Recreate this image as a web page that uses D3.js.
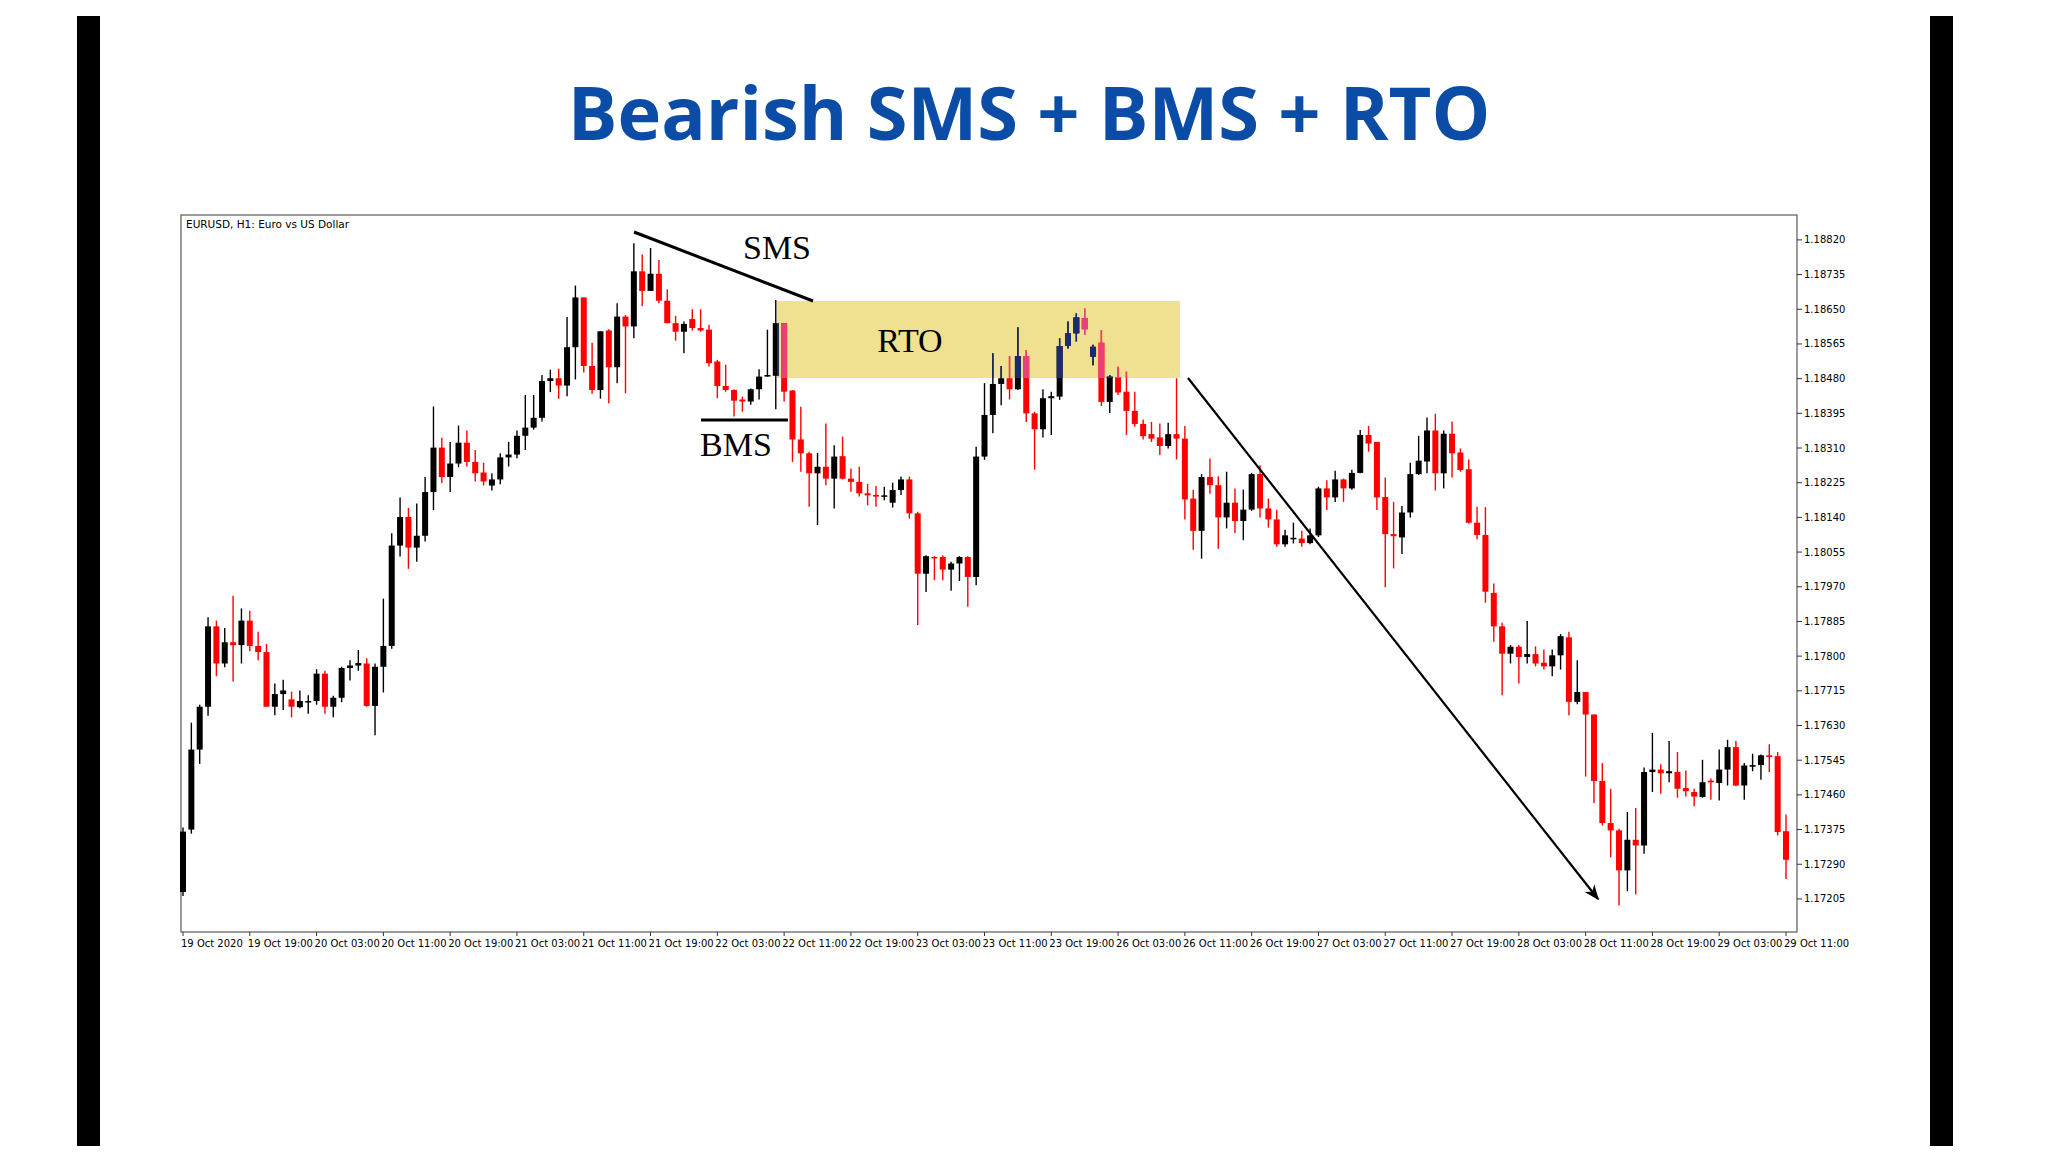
<!DOCTYPE html>
<html>
<head>
<meta charset="utf-8">
<script src="https://cdn.jsdelivr.net/npm/d3@7"></script>
<style>
  body { margin: 0; background: #fff; }
</style>
</head>
<body>
<svg id="chart" width="2048" height="1152"></svg>
<script>
const width = 2048;
const height = 1152;

// EURUSD H1 candles, prices
const open = [1.17222,1.17375,1.17571,1.17676,1.17873,1.17782,1.17834,1.17827,1.17887,1.17825,1.17810,1.17676,1.17707,1.17694,1.17675,1.17690,1.17690,1.17757,1.17676,1.17698,1.17771,1.17777,1.17782,1.17678,1.17774,1.17825,1.18071,1.18141,1.18066,1.18095,1.18202,1.18311,1.18239,1.18272,1.18323,1.18276,1.18250,1.18218,1.18233,1.18287,1.18294,1.18340,1.18360,1.18384,1.18474,1.18481,1.18463,1.18557,1.18679,1.18511,1.18452,1.18598,1.18508,1.18632,1.18608,1.18743,1.18695,1.18737,1.18671,1.18616,1.18595,1.18626,1.18604,1.18600,1.18522,1.18462,1.18452,1.18429,1.18424,1.18454,1.18485,1.18487,1.18616,1.18451,1.18331,1.18297,1.18248,1.18264,1.18235,1.18290,1.18235,1.18227,1.18199,1.18195,1.18191,1.18176,1.18207,1.18233,1.18150,1.18002,1.18043,1.18043,1.18012,1.18027,1.18043,1.17994,1.18289,1.18391,1.18467,1.18481,1.18454,1.18535,1.18395,1.18356,1.18432,1.18436,1.18560,1.18591,1.18628,1.18534,1.18568,1.18423,1.18483,1.18448,1.18401,1.18369,1.18344,1.18336,1.18315,1.18344,1.18333,1.18186,1.18107,1.18239,1.18219,1.18140,1.18176,1.18131,1.18159,1.18246,1.18162,1.18135,1.18074,1.18088,1.18088,1.18077,1.18096,1.18211,1.18189,1.18233,1.18211,1.18249,1.18342,1.18325,1.18190,1.18099,1.18091,1.18152,1.18246,1.18277,1.18353,1.18248,1.18345,1.18299,1.18258,1.18127,1.18097,1.17955,1.17873,1.17806,1.17823,1.17798,1.17805,1.17784,1.17775,1.17802,1.17846,1.17688,1.17712,1.17657,1.17494,1.17391,1.17373,1.17275,1.17350,1.17336,1.17516,1.17522,1.17513,1.17516,1.17477,1.17467,1.17455,1.17495,1.17489,1.17522,1.17577,1.17483,1.17529,1.17533,1.17557,1.17555,1.17371];
const high = [1.17380,1.17637,1.17681,1.17895,1.17887,1.17869,1.17948,1.17917,1.17911,1.17860,1.17830,1.17733,1.17742,1.17713,1.17716,1.17704,1.17768,1.17764,1.17703,1.17774,1.17790,1.17815,1.17795,1.17782,1.17941,1.18101,1.18189,1.18163,1.18174,1.18239,1.18412,1.18335,1.18325,1.18365,1.18353,1.18305,1.18274,1.18248,1.18297,1.18325,1.18353,1.18440,1.18440,1.18489,1.18502,1.18504,1.18631,1.18708,1.18679,1.18568,1.18596,1.18601,1.18665,1.18636,1.18812,1.18784,1.18800,1.18771,1.18699,1.18634,1.18620,1.18650,1.18650,1.18612,1.18526,1.18514,1.18454,1.18436,1.18456,1.18503,1.18600,1.18673,1.18616,1.18452,1.18411,1.18301,1.18298,1.18370,1.18317,1.18338,1.18260,1.18264,1.18222,1.18217,1.18215,1.18225,1.18240,1.18240,1.18154,1.18047,1.18045,1.18047,1.18031,1.18045,1.18045,1.18313,1.18469,1.18542,1.18511,1.18535,1.18606,1.18550,1.18399,1.18454,1.18448,1.18579,1.18620,1.18640,1.18652,1.18563,1.18599,1.18489,1.18509,1.18497,1.18448,1.18380,1.18374,1.18370,1.18372,1.18481,1.18364,1.18208,1.18246,1.18284,1.18241,1.18252,1.18211,1.18208,1.18249,1.18268,1.18186,1.18159,1.18110,1.18127,1.18107,1.18113,1.18215,1.18231,1.18254,1.18235,1.18257,1.18354,1.18364,1.18325,1.18238,1.18178,1.18168,1.18274,1.18340,1.18385,1.18394,1.18353,1.18375,1.18309,1.18282,1.18166,1.18165,1.17978,1.17882,1.17827,1.17827,1.17886,1.17824,1.17816,1.17816,1.17854,1.17860,1.17790,1.17712,1.17657,1.17538,1.17475,1.17377,1.17418,1.17428,1.17527,1.17612,1.17535,1.17592,1.17565,1.17520,1.17475,1.17546,1.17500,1.17571,1.17595,1.17592,1.17538,1.17561,1.17559,1.17584,1.17565,1.17412];
const low = [1.17212,1.17365,1.17536,1.17654,1.17751,1.17773,1.17738,1.17782,1.17812,1.17790,1.17676,1.17655,1.17668,1.17650,1.17672,1.17659,1.17681,1.17659,1.17650,1.17687,1.17740,1.17764,1.17676,1.17606,1.17711,1.17818,1.18044,1.18014,1.18031,1.18081,1.18158,1.18224,1.18202,1.18263,1.18265,1.18228,1.18218,1.18206,1.18221,1.18265,1.18285,1.18305,1.18355,1.18375,1.18447,1.18431,1.18437,1.18478,1.18495,1.18443,1.18431,1.18420,1.18469,1.18444,1.18579,1.18658,1.18695,1.18665,1.18616,1.18573,1.18542,1.18598,1.18595,1.18510,1.18432,1.18448,1.18387,1.18399,1.18416,1.18429,1.18485,1.18405,1.18424,1.18276,1.18252,1.18166,1.18121,1.18219,1.18162,1.18233,1.18203,1.18191,1.18170,1.18166,1.18182,1.18164,1.18195,1.18137,1.17876,1.17957,1.17986,1.17986,1.17960,1.17984,1.17921,1.17974,1.18281,1.18346,1.18415,1.18429,1.18452,1.18374,1.18257,1.18336,1.18342,1.18428,1.18554,1.18571,1.18587,1.18513,1.18413,1.18396,1.18440,1.18342,1.18362,1.18331,1.18325,1.18293,1.18309,1.18282,1.18135,1.18061,1.18039,1.18198,1.18063,1.18113,1.18102,1.18084,1.18156,1.18140,1.18115,1.18068,1.18068,1.18076,1.18068,1.18074,1.18092,1.18158,1.18178,1.18178,1.18208,1.18248,1.18301,1.18158,1.17969,1.18015,1.18050,1.18140,1.18244,1.18248,1.18206,1.18211,1.18238,1.18252,1.18125,1.18086,1.17931,1.17835,1.17704,1.17782,1.17733,1.17782,1.17775,1.17767,1.17751,1.17767,1.17655,1.17682,1.17505,1.17440,1.17385,1.17307,1.17189,1.17224,1.17216,1.17316,1.17467,1.17463,1.17491,1.17453,1.17456,1.17432,1.17453,1.17448,1.17446,1.17483,1.17481,1.17448,1.17518,1.17497,1.17516,1.17361,1.17254];
const close = [1.17370,1.17571,1.17676,1.17873,1.17782,1.17834,1.17827,1.17887,1.17825,1.17810,1.17676,1.17707,1.17716,1.17676,1.17690,1.17690,1.17757,1.17676,1.17698,1.17771,1.17777,1.17783,1.17678,1.17774,1.17825,1.18071,1.18141,1.18066,1.18095,1.18202,1.18311,1.18239,1.18272,1.18323,1.18276,1.18248,1.18228,1.18233,1.18287,1.18294,1.18340,1.18360,1.18384,1.18474,1.18481,1.18463,1.18557,1.18679,1.18511,1.18452,1.18596,1.18508,1.18632,1.18608,1.18743,1.18695,1.18737,1.18671,1.18616,1.18595,1.18614,1.18604,1.18598,1.18518,1.18462,1.18452,1.18426,1.18424,1.18454,1.18485,1.18489,1.18616,1.18448,1.18331,1.18297,1.18248,1.18264,1.18235,1.18289,1.18235,1.18227,1.18199,1.18194,1.18191,1.18194,1.18207,1.18233,1.18150,1.18002,1.18045,1.18042,1.18012,1.18027,1.18043,1.17994,1.18289,1.18391,1.18467,1.18481,1.18454,1.18535,1.18395,1.18356,1.18432,1.18437,1.18560,1.18591,1.18630,1.18601,1.18558,1.18423,1.18485,1.18446,1.18401,1.18369,1.18339,1.18333,1.18315,1.18344,1.18333,1.18184,1.18107,1.18239,1.18219,1.18140,1.18176,1.18131,1.18159,1.18246,1.18162,1.18135,1.18074,1.18096,1.18090,1.18077,1.18096,1.18211,1.18189,1.18233,1.18211,1.18249,1.18342,1.18321,1.18189,1.18099,1.18094,1.18152,1.18246,1.18279,1.18353,1.18248,1.18345,1.18297,1.18256,1.18127,1.18097,1.17958,1.17873,1.17806,1.17823,1.17798,1.17805,1.17782,1.17775,1.17802,1.17849,1.17688,1.17712,1.17657,1.17494,1.17391,1.17373,1.17275,1.17350,1.17336,1.17516,1.17522,1.17513,1.17518,1.17475,1.17469,1.17456,1.17491,1.17491,1.17522,1.17577,1.17483,1.17532,1.17533,1.17557,1.17553,1.17369,1.17301];

const priceTicks = [1.17205,1.17290,1.17375,1.17460,1.17545,1.17630,1.17715,1.17800,1.17885,1.17970,1.18055,1.18140,1.18225,1.18310,1.18395,1.18480,1.18565,1.18650,1.18735,1.18820];
const timeLabels = ["19 Oct 2020","19 Oct 19:00","20 Oct 03:00","20 Oct 11:00","20 Oct 19:00","21 Oct 03:00","21 Oct 11:00","21 Oct 19:00","22 Oct 03:00","22 Oct 11:00","22 Oct 19:00","23 Oct 03:00","23 Oct 11:00","23 Oct 19:00","26 Oct 03:00","26 Oct 11:00","26 Oct 19:00","27 Oct 03:00","27 Oct 11:00","27 Oct 19:00","28 Oct 03:00","28 Oct 11:00","28 Oct 19:00","29 Oct 03:00","29 Oct 11:00"];
const labelStep = 8; // one time label every 8 bars

const candles = open.map((o, i) => ({ i, o, h: high[i], l: low[i], c: close[i] }));

const plot = { left: 181, right: 1797, top: 215, bottom: 932 };

const x = d3.scaleLinear().domain([0, candles.length - 1]).range([183, 1786]);
const y = d3.scaleLinear().domain([1.17124, 1.18881]).range([plot.bottom, plot.top]);

const svg = d3.select("#chart");

// side bars
svg.append("rect").attr("x", 77).attr("y", 16).attr("width", 23).attr("height", 1130).attr("fill", "#000");
svg.append("rect").attr("x", 1930).attr("y", 16).attr("width", 23).attr("height", 1130).attr("fill", "#000");

// title
svg.append("text")
    .attr("x", 1029).attr("y", 140)
    .attr("text-anchor", "middle")
    .attr("font-family", "'Open Sans', sans-serif")
    .attr("font-weight", 700)
    .attr("font-size", 74)
    .attr("fill", "#0a4ca6")
    .text("Bearish SMS + BMS + RTO");

// plot frame
svg.append("rect")
    .attr("x", plot.left).attr("y", plot.top)
    .attr("width", plot.right - plot.left).attr("height", plot.bottom - plot.top)
    .attr("fill", "#fff").attr("stroke", "#666").attr("stroke-width", 1.3);

svg.append("text")
    .attr("x", plot.left + 5).attr("y", plot.top + 13)
    .attr("font-family", "'DejaVu Sans', sans-serif").attr("font-size", 10.5)
    .text("EURUSD, H1:  Euro vs US Dollar");

// RTO zone
const rto = { x: 777, y: 301, w: 403, h: 77 };
svg.append("rect")
    .attr("x", rto.x).attr("y", rto.y).attr("width", rto.w).attr("height", rto.h)
    .attr("fill", "#efe18f");

svg.append("defs").append("clipPath").attr("id", "rtoClip")
  .append("rect").attr("x", rto.x).attr("y", rto.y).attr("width", rto.w).attr("height", rto.h);

const bodyW = 6;

function drawCandles(g, up, down) {
  const cg = g.selectAll("g").data(candles).join("g");
  cg.append("line")
      .attr("x1", d => x(d.i)).attr("x2", d => x(d.i))
      .attr("y1", d => y(d.h)).attr("y2", d => y(d.l))
      .attr("stroke", d => d.c >= d.o ? up : down)
      .attr("stroke-width", 1.4);
  cg.append("rect")
      .attr("x", d => x(d.i) - bodyW / 2)
      .attr("y", d => y(Math.max(d.o, d.c)))
      .attr("width", bodyW)
      .attr("height", d => Math.max(1.5, Math.abs(y(d.o) - y(d.c))))
      .attr("fill", d => d.c >= d.o ? up : down);
}

drawCandles(svg.append("g"), "#000", "#ff0000");
// candles seen through the highlighted zone
drawCandles(svg.append("g").attr("clip-path", "url(#rtoClip)"), "#1c2a6e", "#e8407a");

// price axis
const yAxis = svg.append("g").attr("font-family", "'DejaVu Sans', sans-serif").attr("font-size", 10);
yAxis.selectAll("line").data(priceTicks).join("line")
    .attr("x1", plot.right).attr("x2", plot.right + 5)
    .attr("y1", d => y(d)).attr("y2", d => y(d))
    .attr("stroke", "#333");
yAxis.selectAll("text").data(priceTicks).join("text")
    .attr("x", plot.right + 7).attr("y", d => y(d) + 3.5)
    .text(d => d.toFixed(5));

// time axis
const xAxis = svg.append("g").attr("font-family", "'DejaVu Sans', sans-serif").attr("font-size", 10);
xAxis.selectAll("line").data(timeLabels).join("line")
    .attr("x1", (d, k) => x(k * labelStep)).attr("x2", (d, k) => x(k * labelStep))
    .attr("y1", plot.bottom).attr("y2", plot.bottom + 4)
    .attr("stroke", "#333");
xAxis.selectAll("text").data(timeLabels).join("text")
    .attr("x", (d, k) => x(k * labelStep) - 2).attr("y", plot.bottom + 15)
    .text(d => d);

// annotations
const serif = "'Liberation Serif', 'Times New Roman', serif";
svg.append("line").attr("x1", 634).attr("y1", 232).attr("x2", 813).attr("y2", 301)
    .attr("stroke", "#000").attr("stroke-width", 3);
svg.append("text").attr("x", 777).attr("y", 259).attr("text-anchor", "middle")
    .attr("font-family", serif).attr("font-size", 34).text("SMS");

svg.append("text").attr("x", 910).attr("y", 352).attr("text-anchor", "middle")
    .attr("font-family", serif).attr("font-size", 34).text("RTO");

svg.append("line").attr("x1", 701).attr("y1", 420).attr("x2", 788).attr("y2", 420)
    .attr("stroke", "#000").attr("stroke-width", 3);
svg.append("text").attr("x", 736).attr("y", 456).attr("text-anchor", "middle")
    .attr("font-family", serif).attr("font-size", 34).text("BMS");

svg.append("defs").append("marker")
    .attr("id", "arrow").attr("viewBox", "0 0 10 10").attr("refX", 9).attr("refY", 5)
    .attr("markerWidth", 7).attr("markerHeight", 7).attr("orient", "auto")
  .append("path").attr("d", "M0,1 L10,5 L0,9 L3,5 Z").attr("fill", "#000");
svg.append("line").attr("x1", 1188).attr("y1", 378).attr("x2", 1598).attr("y2", 899)
    .attr("stroke", "#000").attr("stroke-width", 2.2).attr("marker-end", "url(#arrow)");
</script>
</body>
</html>
